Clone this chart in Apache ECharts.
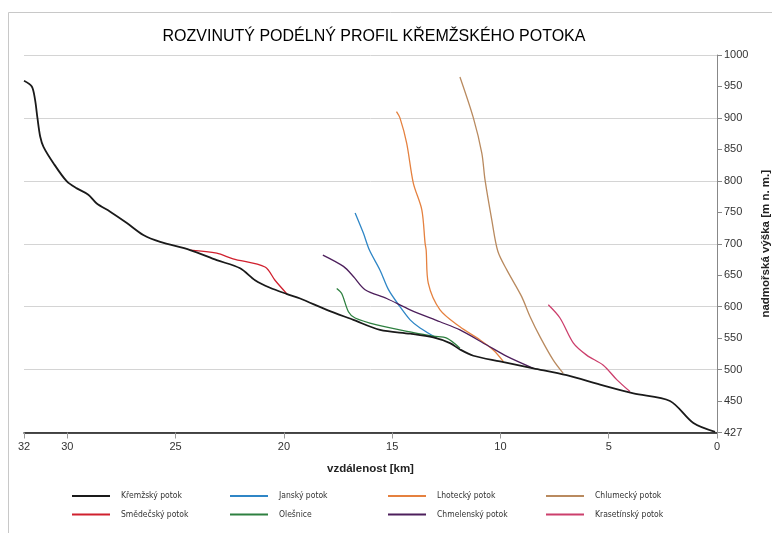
<!DOCTYPE html>
<html>
<head>
<meta charset="utf-8">
<script src="https://cdn.jsdelivr.net/npm/echarts@6/dist/echarts.min.js"></script>
<style>html,body{margin:0;padding:0;background:#fff}#c{width:772px;height:533px}</style>
</head>
<body>
<div id="c"></div>
<script>
// ---- data (km from mouth, altitude on the chart's scale) ----
var kremzKm  = [32.0,31.64,31.49,31.38,31.25,31.10,30.64,30.02,29.56,29.03,28.64,28.02,27.25,26.49,25.71,24.33,23.10,22.02,21.33,20.64,19.85,19.25,18.02,16.79,15.56,14.17,13.10,12.33,11.87,11.25,10.02,8.48,6.94,5.40,3.86,2.17,1.09,0.09];
var kremzAlt = [959,950,929,900,870,854,828,799,788,778,764,751,733,714,703,690,674,661,642,630,620,613,595,579,563,557,551,542,532,522,513,502,491,476,462,450,415,401];
var smedKm   = [24.33,23.10,22.35,20.87,20.41,19.85];
var smedAlt  = [690,685,676,663,642,620];
var janKm    = [16.71,16.33,16.05,15.56,15.17,14.64,14.17,13.71,12.94];
var janAlt   = [749,717,690,658,627,600,579,566,550];
var lhotKm   = [14.80,14.64,14.33,14.02,13.63,13.48,13.43,13.33,12.79,11.87,10.94,10.33,9.87];
var lhotAlt  = [910,900,860,796,754,701,690,637,595,568,547,531,513];
var chlumKm  = [11.87,11.25,10.86,10.71,10.40,10.12,9.70,9.02,8.63,8.17,7.56,7.10];
var chlumAlt = [965,900,844,801,738,688,658,616,584,552,515,494];
var olesKm   = [17.56,17.33,17.02,16.71,15.71,14.17,13.10,12.48,11.87];
var olesAlt  = [629,621,592,582,571,560,553,550,534];
var chmelKm  = [18.20,17.25,16.79,16.25,15.25,14.17,12.79,11.87,10.63,9.70,8.48];
var chmelAlt = [682,664,648,627,613,595,576,563,539,521,502];
var krasKm   = [7.79,7.25,6.63,6.02,5.25,4.63,4.02];
var krasAlt  = [603,582,542,523,507,484,465];

var xTicks = [0,5,10,15,20,25,30,32];
var yTicks = [400,450,500,550,600,650,700,750,800,850,900,950,1000];
var yTickLabels = ['427','450','500','550','600','650','700','750','800','850','900','950','1000'];

var names = ['Křemžský potok','Smědečský potok','Janský potok','Olešnice','Lhotecký potok','Chmelenský potok','Chlumecký potok','Krasetínský potok'];
var colors = ['#1a1a1a','#d0202e','#2f86c6','#2e8040','#e5813f','#4d1f5c','#b98a5f','#cc3f6c'];
var kms  = [kremzKm, smedKm, janKm, olesKm, lhotKm, chmelKm, chlumKm, krasKm];
var alts = [kremzAlt, smedAlt, janAlt, olesAlt, lhotAlt, chmelAlt, chlumAlt, krasAlt];

function zip(a, b){ return a.map(function(v,i){ return [v, b[i]]; }); }

var series = names.map(function(n, i){
  return {
    name: n, type: 'line', yAxisIndex: 0, showSymbol: false, symbol: 'none',
    smooth: 0.3, data: zip(kms[i], alts[i]),
    lineStyle: { color: colors[i], width: i === 0 ? 1.8 : 1.3 },
    itemStyle: { color: colors[i] },
    z: i === 0 ? 3 : 2
  };
});

var legendFont = "'Liberation Sans Narrow','Arial Narrow','DejaVu Sans Condensed','Liberation Sans',sans-serif";
function legendRow(items, top){
  return {
    data: items, left: 72, top: top, orient: 'horizontal',
    icon: 'rect', itemWidth: 38, itemHeight: 2, itemGap: 9, padding: 0,
    textStyle: { fontFamily: legendFont, fontSize: 8.5, color: '#333', width: 100, lineHeight: 12, padding: [0,0,0,6] }
  };
}

var chart = echarts.init(document.getElementById('c'), null, { renderer: 'canvas' });
chart.setOption({
  animation: false,
  backgroundColor: '#fff',
  title: {
    text: 'ROZVINUTÝ PODÉLNÝ PROFIL KŘEMŽSKÉHO POTOKA',
    left: 369, top: 24, textAlign: 'center',
    textStyle: { fontFamily: 'Liberation Sans, Arial, sans-serif', fontSize: 16, fontWeight: 'normal', color: '#000' }
  },
  graphic: [{
    type: 'rect', silent: true,
    shape: { x: 8.5, y: 12.5, width: 800, height: 600 },
    style: { fill: 'none', stroke: '#c8c8c8', lineWidth: 1 }
  }],
  grid: { left: 24, right: 55, top: 55, bottom: 100.5, containLabel: false, outerBoundsMode: 'none' },
  legend: [
    legendRow(['Křemžský potok','Janský potok','Lhotecký potok','Chlumecký potok'], 490),
    legendRow(['Smědečský potok','Olešnice','Chmelenský potok','Krasetínský potok'], 508.5)
  ],
  xAxis: {
    type: 'value', inverse: true, min: 0, max: 32,
    name: 'vzdálenost [km]', nameLocation: 'middle', nameGap: 30,
    nameTextStyle: { fontFamily: 'Liberation Sans, Arial, sans-serif', fontSize: 11.5, fontWeight: 'bold', color: '#222' },
    axisLine: { show: true, lineStyle: { color: '#111', width: 1.5 } },
    axisTick: { show: true, length: 6, customValues: xTicks, lineStyle: { color: '#999' } },
    axisLabel: { customValues: xTicks, margin: 9, fontFamily: 'Liberation Sans, Arial, sans-serif', fontSize: 11, color: '#333' },
    splitLine: { show: false }
  },
  yAxis: [{
    type: 'value', position: 'right', min: 400, max: 1000, interval: 50,
    name: 'nadmořská výška [m n. m.]', nameLocation: 'middle', nameGap: 37, nameRotate: 90,
    nameTextStyle: { fontFamily: 'Liberation Sans, Arial, sans-serif', fontSize: 11.5, fontWeight: 'bold', color: '#222' },
    axisLine: { show: true, onZero: false, lineStyle: { color: '#888', width: 1 } },
    axisTick: { show: true, length: 5, lineStyle: { color: '#888' } },
    axisLabel: {
      margin: 7, fontFamily: 'Liberation Sans, Arial, sans-serif', fontSize: 11, color: '#333',
      formatter: function(v){ var k = yTicks.indexOf(v); return k >= 0 ? yTickLabels[k] : ''; }
    },
    splitLine: { show: false }
  }, {
    type: 'value', position: 'right', min: 400, max: 1000, interval: 100,
    axisLine: { show: false }, axisTick: { show: false }, axisLabel: { show: false },
    splitLine: { show: true, lineStyle: { color: '#d4d4d4', width: 1 } }
  }],
  series: series
});
</script>
</body>
</html>
